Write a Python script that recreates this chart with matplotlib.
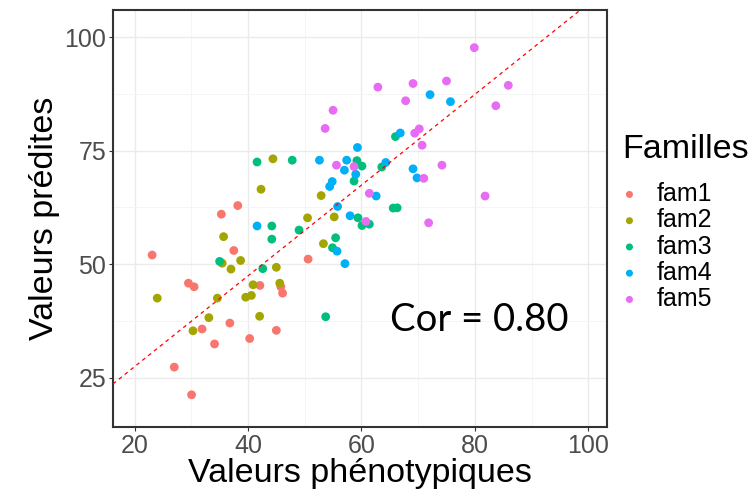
import matplotlib
matplotlib.use("Agg")
import matplotlib.pyplot as plt
from matplotlib.ticker import MultipleLocator

# valeurs (phénotype, prédiction) par famille
fam1_x = [38.2, 35.3, 23.1, 37.5, 29.5, 30.5, 36.8, 31.9, 34.1, 27.0, 30.05,
          50.6, 42.1, 45.8, 46.1, 45.0, 40.3]
fam1_y = [62.9, 61.0, 52.0, 53.0, 45.8, 45.0, 37.0, 35.7, 32.4, 27.3, 21.2,
          51.1, 45.3, 45.0, 43.6, 35.4, 33.6]

fam2_x = [35.7, 35.45, 38.7, 37.0, 24.0, 34.6, 33.1, 30.3, 44.4, 42.3, 52.9,
          50.5, 55.2, 53.3, 45.0, 40.9, 45.6, 39.6, 40.6, 42.05]
fam2_y = [56.05, 50.2, 50.8, 48.9, 42.5, 42.5, 38.2, 35.3, 73.2, 66.5, 65.1,
          60.2, 60.4, 54.5, 49.3, 45.45, 45.8, 42.7, 43.1, 38.5]

fam3_x = [35.0, 41.6, 47.8, 59.2, 60.1, 58.7, 59.4, 60.1, 61.4, 44.2, 44.2,
          49.0, 55.45, 54.9, 42.6, 53.7, 66.0, 63.6, 65.6, 66.3]
fam3_y = [50.6, 72.5, 72.9, 72.8, 71.6, 68.3, 60.2, 58.5, 58.8, 58.4, 55.5,
          57.5, 55.8, 53.6, 49.0, 38.4, 78.1, 71.4, 62.35, 62.4]

fam4_x = [59.3, 52.6, 57.4, 57.0, 59.0, 54.85, 54.4, 55.8, 58.0, 41.6, 55.7,
          57.1, 72.1, 75.7, 66.85, 64.3, 69.1, 69.8, 62.6]
fam4_y = [75.7, 72.9, 72.9, 70.7, 69.8, 68.2, 67.1, 62.7, 60.65, 58.4, 52.85,
          50.1, 87.35, 85.8, 78.9, 72.4, 71.0, 69.0, 65.0]

fam5_x = [53.6, 55.6, 58.7, 61.4, 60.8, 79.9, 62.9, 69.1, 75.0, 67.8, 69.4,
          70.2, 70.7, 71.0, 74.2, 81.8, 71.85, 85.9, 83.7, 55.0]
fam5_y = [79.9, 71.8, 71.5, 65.6, 59.4, 97.7, 89.0, 89.8, 90.35, 86.0, 78.85,
          79.8, 76.2, 68.9, 71.8, 65.0, 59.1, 89.4, 84.9, 83.9]

familles = ["fam1", "fam2", "fam3", "fam4", "fam5"]
couleurs = ["#F8766D", "#A3A500", "#00BF7D", "#00B0F6", "#E76BF3"]
series = [(fam1_x, fam1_y), (fam2_x, fam2_y), (fam3_x, fam3_y),
          (fam4_x, fam4_y), (fam5_x, fam5_y)]

ligne_pente = 1.0
ligne_ordonnee = 7.4
correlation = 0.80

fig = plt.figure(figsize=(7.55, 4.92), dpi=100)
ax = fig.add_axes([113 / 755, 1 - 427 / 492, (607 - 113) / 755, (427 - 10) / 492])

for nom, couleur, (xs, ys) in zip(familles, couleurs, series):
    ax.scatter(xs, ys, s=40, color=couleur, label=nom, edgecolors="none", zorder=3)

ax.set_xlim(16.2, 103.3)
ax.set_ylim(14.1, 106.0)

ax.axline((0, ligne_ordonnee), slope=ligne_pente, color="red", lw=0.9,
          linestyle=(0, (3, 3)), zorder=4)

ax.text(65.0, 37.6, f"Cor = {correlation:.2f}", fontsize=27.5, family="Lato",
        ha="left", va="center", color="black")

ax.xaxis.set_major_locator(MultipleLocator(20))
ax.xaxis.set_minor_locator(MultipleLocator(10))
ax.yaxis.set_major_locator(MultipleLocator(25))
ax.yaxis.set_minor_locator(MultipleLocator(12.5))
ax.grid(which="major", color="#EBEBEB", lw=1.0, zorder=0)
ax.grid(which="minor", color="#F4F4F4", lw=0.6, zorder=0)
ax.set_axisbelow(True)

ax.tick_params(which="major", length=3, width=0.8, color="#333333",
               labelsize=18, labelcolor="#4D4D4D", pad=2)
ax.tick_params(which="minor", length=0)
for lbl in ax.get_xticklabels() + ax.get_yticklabels():
    lbl.set_family("Liberation Sans")
for sp in ax.spines.values():
    sp.set_color("#333333")
    sp.set_linewidth(1.5)

ax.set_xlabel("Valeurs phénotypiques", fontsize=24.5, family="Liberation Sans", labelpad=0)
ax.set_ylabel("Valeurs prédites", fontsize=24.5, family="Liberation Sans", labelpad=3)

leg = ax.legend(title="Familles", loc="center left", bbox_to_anchor=(1.01, 0.49),
                frameon=False, title_fontsize=24.5, markerscale=0.8,
                handlelength=0.6, handletextpad=0.8, labelspacing=0.09,
                borderaxespad=0,
                prop={"family": "Liberation Sans", "size": 18})
leg.get_title().set_family("Liberation Sans")
leg._legend_box.align = "left"
leg._legend_box.sep = 12

fig.savefig("out.png", dpi=100)
